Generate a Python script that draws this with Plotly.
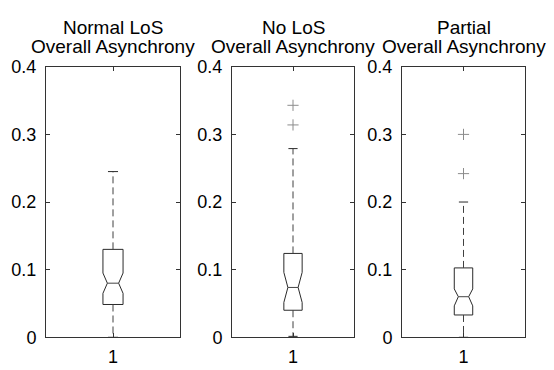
import plotly.graph_objects as go

# ---- data ----
groups = ["Normal LoS", "No LoS", "Partial"]
title_line2 = ["Overall Asynchrony", "Overall Asynchrony", "Overall Asynchrony"]
q1 = [0.0485, 0.040, 0.033]
median = [0.080, 0.0737, 0.060]
q3 = [0.130, 0.124, 0.1026]
notch_low = [0.065, 0.0515, 0.0465]
notch_high = [0.095, 0.096, 0.0715]
lower_whisker = [0.0, 0.0014, 0.0]
upper_whisker = [0.245, 0.279, 0.200]
outliers = [[], [0.314, 0.343], [0.242, 0.300]]
y_ticks = [0, 0.1, 0.2, 0.3, 0.4]
y_tick_labels = ["0", "0.1", "0.2", "0.3", "0.4"]
x_tick_labels = ["1"]

# ---- styling / layout ----
W, H = 554, 370
panel_px = [(46, 180), (232, 354), (402, 525)]
top_px, bottom_px = 60, 346
FONT = "Liberation Sans, Arial, sans-serif"
BOX_C = "#2a2a2a"
MED_C = "#444444"
WHI_C = "#404040"
OUT_C = "#8c8c8c"
AX_C = "#333333"
hw = 0.075   # box half width (data units)
iw = 0.042   # half width at the notch
cap = hw / 2

fig = go.Figure()
for i in range(3):
    xa = "x" if i == 0 else f"x{i+1}"
    ya = "y" if i == 0 else f"y{i+1}"
    c = 1
    bx = [c - hw, c + hw, c + hw, c + iw, c + hw, c + hw, c - hw, c - hw, c - iw, c - hw, c - hw]
    by = [q3[i], q3[i], notch_high[i], median[i], notch_low[i], q1[i], q1[i], notch_low[i], median[i], notch_high[i], q3[i]]
    fig.add_trace(go.Scatter(x=bx, y=by, mode="lines", line=dict(color=BOX_C, width=1),
                             xaxis=xa, yaxis=ya, showlegend=False, hoverinfo="skip"))
    fig.add_trace(go.Scatter(x=[c - iw, c + iw], y=[median[i], median[i]], mode="lines",
                             line=dict(color=MED_C, width=1), xaxis=xa, yaxis=ya, showlegend=False))
    # whiskers (dashed)
    fig.add_trace(go.Scatter(x=[c, c, None, c, c], y=[q3[i], upper_whisker[i], None, q1[i], lower_whisker[i]],
                             mode="lines", line=dict(color=WHI_C, width=1, dash="7px,4px"),
                             xaxis=xa, yaxis=ya, showlegend=False))
    # caps
    fig.add_trace(go.Scatter(x=[c - cap, c + cap, None, c - cap, c + cap],
                             y=[upper_whisker[i], upper_whisker[i], None, lower_whisker[i], lower_whisker[i]],
                             mode="lines", line=dict(color=BOX_C, width=1),
                             xaxis=xa, yaxis=ya, showlegend=False))
    if outliers[i]:
        fig.add_trace(go.Scatter(x=[c] * len(outliers[i]), y=outliers[i], mode="markers",
                                 marker=dict(symbol="cross-thin", size=8, line=dict(color=OUT_C, width=1)),
                                 xaxis=xa, yaxis=ya, showlegend=False))

layout = dict(width=W, height=H, margin=dict(l=0, r=0, t=0, b=0),
              paper_bgcolor="white", plot_bgcolor="white",
              font=dict(family=FONT, size=18, color="black"))
ydom = [1 - bottom_px / H, 1 - top_px / H]
annotations = []
for i in range(3):
    sx = "" if i == 0 else str(i + 1)
    x0, x1 = panel_px[i]
    layout["xaxis" + sx] = dict(domain=[x0 / W, x1 / W], range=[0.5, 1.5], anchor="y" + sx,
                                tickvals=[1], ticktext=x_tick_labels, ticks="inside", ticklen=4,
                                tickcolor=AX_C, showline=True, linecolor=AX_C, linewidth=1,
                                mirror="ticks", showgrid=False, zeroline=False, fixedrange=True,
                                tickfont=dict(size=18), ticklabelstandoff=3)
    layout["yaxis" + sx] = dict(domain=ydom, range=[0, 0.4], anchor="x" + sx,
                                tickvals=y_ticks, ticktext=y_tick_labels, ticks="inside", ticklen=4,
                                tickcolor=AX_C, showline=True, linecolor=AX_C, linewidth=1,
                                mirror="ticks", showgrid=False, zeroline=False, fixedrange=True,
                                tickfont=dict(size=18), ticklabelstandoff=5)
    cx = (x0 + x1) / 2 / W
    annotations.append(dict(text=groups[i], x=cx, y=1 - 18.5 / H, xref="paper", yref="paper",
                            xanchor="center", yanchor="middle", showarrow=False, font=dict(size=19)))
    annotations.append(dict(text=title_line2[i], x=cx, y=1 - 38.5 / H, xref="paper", yref="paper",
                            xanchor="center", yanchor="middle", showarrow=False, font=dict(size=19)))
layout["annotations"] = annotations
fig.update_layout(**layout)
fig.write_html("out.html", config={"displayModeBar": False},
               post_script="document.body.style.margin='0';document.body.style.overflow='hidden';")
